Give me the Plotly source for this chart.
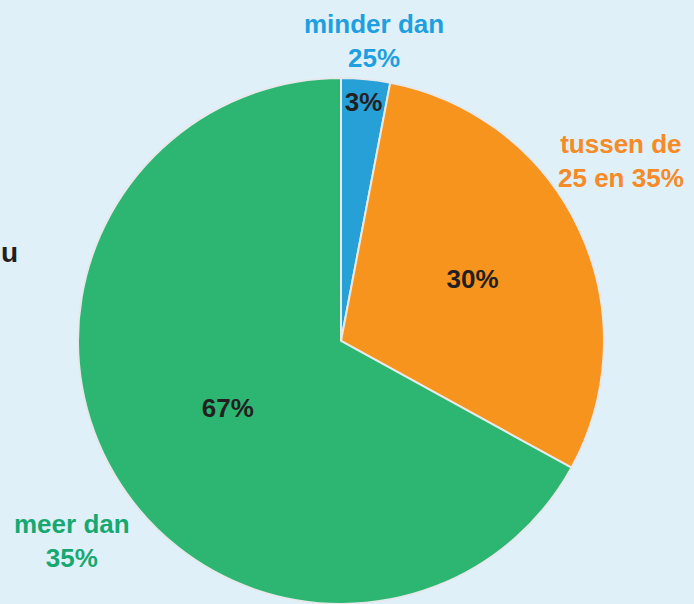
import plotly.graph_objects as go

labels = ["minder dan 25%", "tussen de 25 en 35%", "meer dan 35%"]
values = [3, 30, 67]
colors = ["#27a0d8", "#f7941d", "#2db672"]
label_colors = ["#1ea0e0", "#f58a26", "#17a872"]
label_texts = ["minder dan<br>25%", "tussen de<br>25 en 35%", "meer dan<br>35%"]

W, H = 694, 604
FONT = "Liberation Sans, Arial, sans-serif"

fig = go.Figure(go.Pie(
    labels=labels,
    values=values,
    sort=False,
    direction="clockwise",
    rotation=0,
    marker=dict(colors=colors, line=dict(color="#e6e9ec", width=2)),
    textinfo="percent",
    texttemplate="<b>%{percent:.0%}</b>",
    textposition="inside",
    insidetextorientation="horizontal",
    insidetextfont=dict(family=FONT, size=26, color="#231f20"),
    showlegend=False,
    hoverinfo="label+percent",
    domain=dict(x=[0.1124, 0.8703], y=[0.0, 0.8709]),
))

label_pos = [(374, 41), (621, 161), (72, 541)]
annotations = []
for txt, col, (px, py) in zip(label_texts, label_colors, label_pos):
    annotations.append(dict(
        text="<b>" + txt + "</b>", x=px / W, y=1 - py / H,
        xref="paper", yref="paper", showarrow=False,
        xanchor="center", yanchor="middle",
        font=dict(family=FONT, size=26, color=col), align="center",
    ))
annotations.append(dict(
    text="<b>u</b>", x=0, y=1 - 253 / H, xref="paper", yref="paper",
    showarrow=False, xanchor="left", yanchor="middle",
    font=dict(family=FONT, size=28, color="#231f20"),
    borderpad=0,
))

fig.update_layout(
    width=W, height=H,
    margin=dict(l=0, r=0, t=0, b=0),
    paper_bgcolor="#e0f0f9",
    plot_bgcolor="#e0f0f9",
    uniformtext=dict(minsize=26, mode="show"),
    annotations=annotations,
)

fig.write_html("out.html")
